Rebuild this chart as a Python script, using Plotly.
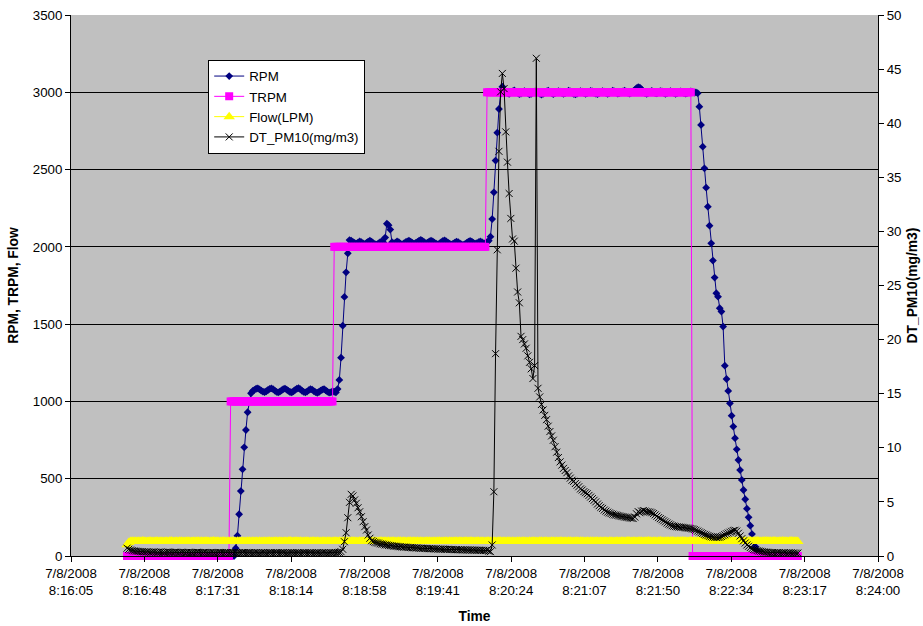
import pandas as pd
import plotly.graph_objects as go

# ---------------- data (1-second samples starting at 8:16:38) ----------------
START_TIME = "2008-07-08 08:16:38"

RPM = [
    # 8:16:38 .. idle
    0, 0, 0, 0, 0, 0, 0, 0, 0, 0, 0, 0, 0, 0, 0, 0,
    0, 0, 0, 0, 0, 0, 0, 0, 0, 0, 0, 0, 0, 0, 0, 0,
    0, 0, 0, 0, 0, 0, 0, 0, 0, 0, 0, 0, 0, 0, 0, 0,
    0, 0, 0, 0, 0, 0, 0, 0, 0, 0, 0, 0, 0, 0, 0, 0,
    # ramp to 1000
    50, 131, 270, 420, 561, 703, 815, 930, 1000, 1053,
    # plateau ~1000
    1068, 1075, 1082, 1085, 1078, 1070, 1064, 1060, 1066, 1074,
    1081, 1084, 1079, 1070, 1062, 1058, 1063, 1072, 1080, 1083,
    1077, 1068, 1061, 1059, 1066, 1075, 1082, 1086, 1079, 1069,
    1062, 1058, 1064, 1073, 1079, 1076, 1067, 1060, 1056, 1061,
    1070, 1077, 1080, 1072, 1063, 1057, 1059, 1066, 1062, 1058,
    # ramp to 2000
    1080, 1139, 1283, 1490, 1676, 1835, 1958, 2044,
    # plateau ~2000
    2040, 2032, 2025, 2020, 2028, 2036, 2030, 2022, 2018, 2025,
    2034, 2040, 2033, 2024, 2018, 2015, 2022, 2030, 2036, 2028,
    2060, 2150, 2140, 2112, 2030, 2022, 2028, 2035, 2030, 2020,
    2016, 2022, 2030, 2036, 2040, 2034, 2026, 2020, 2025, 2032,
    2040, 2045, 2038, 2030, 2024, 2028, 2035, 2040, 2036, 2028,
    2020, 2016, 2022, 2030, 2038, 2042, 2035, 2027, 2020, 2015,
    2020, 2028, 2034, 2030, 2022, 2016, 2012, 2018, 2026, 2033,
    2038, 2034, 2026, 2020, 2024, 2030, 2035, 2030, 2022, 2025,
    2030, 2040,
    # ramp to 3000
    2066, 2180, 2353, 2558, 2739, 2892, 2990, 3036,
    # plateau ~3000
    3010, 3005, 2995, 2990, 2998, 3006, 3012, 3004, 2996, 2988,
    2992, 3000, 3008, 3002, 2994, 2986, 2990, 2998, 3004, 3008,
    3000, 2992, 2985, 2990, 2998, 3005, 3010, 3003, 2995, 2988,
    2994, 3002, 3008, 3004, 2996, 2990, 2995, 3003, 3010, 3006,
    2998, 2990, 2986, 2992, 3000, 3007, 3004, 2996, 2990, 2994,
    3002, 3009, 3005, 2997, 2991, 2988, 2994, 3001, 3008, 3004,
    2996, 2990, 2995, 3003, 3010, 3006, 2998, 2991, 2994, 3000,
    3006, 3010, 3004, 2996, 2992, 2998, 3006, 3015, 3026, 3033,
    3030, 3018, 3004, 2994, 2990, 2996, 3004, 3009, 3003, 2995,
    2993, 3001, 3008, 3005, 2997, 2990, 2994, 3002, 3007, 3003,
    2996, 2990, 2994, 3001, 3006, 3002, 2995, 2991, 2996, 3003,
    3006, 3002, 2998, 3000,
    # ramp down
    2994, 2907, 2789, 2648, 2508, 2383, 2260, 2137, 2023, 1911,
    1801, 1700, 1678, 1603, 1581, 1484, 1231, 1145, 1068, 988,
    908, 837, 762, 690, 621, 556, 492, 427, 367, 306,
    250, 196, 142,
    # stopped
    95, 60, 35, 20, 10, 5, 0, 0, 0, 0, 0, 0, 0, 0, 0, 0,
    0, 0, 0, 0, 0, 0, 0, 0, 0, 0, 0,
]

TRPM = [
    0, 0, 0, 0, 0, 0, 0, 0, 0, 0,
    0, 0, 0, 0, 0, 0, 0, 0, 0, 0,
    0, 0, 0, 0, 0, 0, 0, 0, 0, 0,
    0, 0, 0, 0, 0, 0, 0, 0, 0, 0,
    0, 0, 0, 0, 0, 0, 0, 0, 0, 0,
    0, 0, 0, 0, 0, 0, 0, 0, 0, 0,
    0,
    1000, 1000, 1000, 1000, 1000, 1000, 1000, 1000, 1000, 1000,
    1000, 1000, 1000, 1000, 1000, 1000, 1000, 1000, 1000, 1000,
    1000, 1000, 1000, 1000, 1000, 1000, 1000, 1000, 1000, 1000,
    1000, 1000, 1000, 1000, 1000, 1000, 1000, 1000, 1000, 1000,
    1000, 1000, 1000, 1000, 1000, 1000, 1000, 1000, 1000, 1000,
    1000, 1000, 1000, 1000, 1000, 1000, 1000, 1000, 1000, 1000,
    1000,
    2000, 2000, 2000, 2000, 2000, 2000, 2000, 2000, 2000, 2000,
    2000, 2000, 2000, 2000, 2000, 2000, 2000, 2000, 2000, 2000,
    2000, 2000, 2000, 2000, 2000, 2000, 2000, 2000, 2000, 2000,
    2000, 2000, 2000, 2000, 2000, 2000, 2000, 2000, 2000, 2000,
    2000, 2000, 2000, 2000, 2000, 2000, 2000, 2000, 2000, 2000,
    2000, 2000, 2000, 2000, 2000, 2000, 2000, 2000, 2000, 2000,
    2000, 2000, 2000, 2000, 2000, 2000, 2000, 2000, 2000, 2000,
    2000, 2000, 2000, 2000, 2000, 2000, 2000, 2000, 2000, 2000,
    2000, 2000, 2000, 2000, 2000, 2000, 2000, 2000, 2000, 2000,
    3000, 3000, 3000, 3000, 3000, 3000, 3000, 3000, 3000, 3000,
    3000, 3000, 3000, 3000, 3000, 3000, 3000, 3000, 3000, 3000,
    3000, 3000, 3000, 3000, 3000, 3000, 3000, 3000, 3000, 3000,
    3000, 3000, 3000, 3000, 3000, 3000, 3000, 3000, 3000, 3000,
    3000, 3000, 3000, 3000, 3000, 3000, 3000, 3000, 3000, 3000,
    3000, 3000, 3000, 3000, 3000, 3000, 3000, 3000, 3000, 3000,
    3000, 3000, 3000, 3000, 3000, 3000, 3000, 3000, 3000, 3000,
    3000, 3000, 3000, 3000, 3000, 3000, 3000, 3000, 3000, 3000,
    3000, 3000, 3000, 3000, 3000, 3000, 3000, 3000, 3000, 3000,
    3000, 3000, 3000, 3000, 3000, 3000, 3000, 3000, 3000, 3000,
    3000, 3000, 3000, 3000, 3000, 3000, 3000, 3000, 3000, 3000,
    3000, 3000, 3000, 3000, 3000, 3000, 3000, 3000, 3000, 3000,
    3000,
    0, 0, 0, 0, 0, 0, 0, 0, 0, 0,
    0, 0, 0, 0, 0, 0, 0, 0, 0, 0,
    0, 0, 0, 0, 0, 0, 0, 0, 0, 0,
    0, 0, 0, 0, 0, 0, 0, 0, 0, 0,
    0, 0, 0, 0, 0, 0, 0, 0, 0, 0,
    0, 0, 0, 0, 0, 0, 0, 0, 0, 0,
    0, 0, 0,
]

FLOW_LPM = [
    72, 88, 93, 95, 94, 96, 93, 95, 94, 97, 95, 93, 94, 96, 95, 94, 93, 95, 96, 94,
    95, 93, 94, 96, 94, 95, 97, 94, 93, 95, 94, 96, 95, 93, 94, 95, 96, 94, 93, 95,
    94, 96, 95, 93, 95, 94, 96, 95, 94, 93, 95, 97, 94, 95, 93, 94, 96, 95, 94, 93,
    95, 94, 96, 93, 94, 95, 96, 94, 95, 93, 94, 96, 95, 94, 95, 93, 96, 94, 95, 94,
    93, 95, 94, 96, 95, 94, 93, 95, 96, 94, 95, 93, 94, 96, 94, 95, 97, 94, 93, 95,
    96, 94, 95, 93, 94, 96, 95, 94, 93, 95, 96, 94, 95, 94, 93, 96, 95, 94, 96, 95,
    94, 93, 95, 96, 94, 95, 93, 94, 96, 95, 94, 93, 95, 96, 95, 94, 93, 95, 94, 96,
    95, 94, 93, 95, 96, 94, 95, 93, 94, 96, 95, 94, 96, 93, 95, 94, 95, 96, 94, 93,
    95, 96, 94, 95, 93, 94, 96, 95, 94, 95, 93, 96, 94, 95, 94, 93, 95, 96, 95, 94,
    93, 95, 94, 96, 95, 93, 94, 95, 96, 94, 95, 94, 93, 96, 95, 94, 95, 93, 94, 96,
    95, 94, 96, 95, 93, 94, 95, 96, 94, 95, 93, 94, 96, 95, 94, 96, 95, 93, 94, 95,
    96, 94, 95, 93, 95, 96, 94, 95, 94, 93, 95, 96, 94, 95, 96, 94, 93, 95, 94, 96,
    95, 93, 94, 96, 95, 94, 96, 95, 93, 94, 95, 96, 94, 95, 93, 95, 96, 94, 95, 94,
    96, 95, 94, 93, 95, 96, 94, 95, 96, 94, 93, 95, 94, 96, 95, 94, 95, 96, 94, 95,
    94, 96, 95, 94, 96, 95, 93, 94, 96, 95, 94, 95, 96, 94, 95, 97, 95, 94, 96, 95,
    94, 95, 96, 95, 94, 96, 95, 97, 95, 94, 96, 95, 94, 96, 97, 95, 94, 96, 95, 96,
    95, 97, 96, 94, 95, 96, 95, 97, 96, 95, 94, 96, 97, 95, 96, 94, 95, 97, 96, 95,
    96, 95, 97, 96, 94, 95, 97, 96, 95, 96, 97, 95, 94, 96, 95, 97, 96, 95, 96, 94,
    95, 97, 96, 95, 96, 94, 95, 97, 96, 95, 96, 97, 95, 94, 96, 95, 97, 96, 95, 96,
    95, 97, 96, 94, 96, 95, 97, 96, 95, 94, 96, 97, 95, 96, 95, 94,
]

DT_PM10 = [
    0.72, 0.62, 0.55, 0.50, 0.47, 0.45, 0.43, 0.42, 0.40, 0.39,
    0.38, 0.37, 0.38, 0.36, 0.35, 0.36, 0.37, 0.35, 0.34, 0.35,
    0.36, 0.34, 0.33, 0.35, 0.36, 0.34, 0.33, 0.32, 0.34, 0.35,
    0.33, 0.32, 0.34, 0.33, 0.31, 0.32, 0.34, 0.33, 0.32, 0.31,
    0.32, 0.34, 0.33, 0.31, 0.30, 0.32, 0.33, 0.31, 0.30, 0.32,
    0.33, 0.31, 0.30, 0.31, 0.33, 0.32, 0.30, 0.29, 0.31, 0.32,
    0.30, 0.31, 0.33, 0.32, 0.30, 0.29, 0.31, 0.30, 0.32, 0.31,
    0.29, 0.30, 0.32, 0.31, 0.29, 0.30, 0.31, 0.29, 0.28, 0.30,
    0.31, 0.30, 0.28, 0.29, 0.31, 0.30, 0.29, 0.30, 0.31, 0.29,
    0.28, 0.30, 0.31, 0.29, 0.28, 0.29, 0.30, 0.31, 0.29, 0.28,
    0.29, 0.30, 0.28, 0.29, 0.31, 0.30, 0.28, 0.29, 0.30, 0.29,
    0.28, 0.29, 0.30, 0.29, 0.28, 0.30, 0.31, 0.29, 0.28, 0.29,
    0.30, 0.29, 0.31, 0.30, 0.32, 0.34, 0.40,
    # first puff (2000 rpm step)
    0.62, 1.32, 2.15, 3.54, 4.96, 5.70, 5.55, 5.18, 4.87, 4.46,
    4.09, 3.63, 3.17, 2.71, 2.40, 1.94, 1.64, 1.41,
    1.33, 1.26, 1.22, 1.19, 1.13, 1.10, 1.08, 1.03, 1.02, 0.98,
    0.96, 0.95, 0.91, 0.90, 0.89, 0.86, 0.86, 0.83, 0.82, 0.82,
    0.80, 0.78, 0.79, 0.76, 0.76, 0.74, 0.75, 0.72, 0.72, 0.71,
    0.70, 0.70, 0.68, 0.68, 0.67, 0.67, 0.65, 0.66, 0.64, 0.64,
    0.63, 0.64, 0.62, 0.61, 0.62, 0.60, 0.61, 0.60, 0.58, 0.59,
    0.58, 0.57, 0.58, 0.56, 0.57, 0.56, 0.55, 0.56, 0.54, 0.55,
    0.54, 0.53, 0.54, 0.52, 0.53, 0.52, 0.51, 0.52, 0.45, 0.40,
    # main puff (3000 rpm step)
    1.02, 5.94, 18.7, 28.3, 37.4, 42.9, 44.6, 43.2, 39.2, 36.4,
    33.5, 31.2, 29.3, 29.1, 26.6, 24.4, 23.4, 20.3, 20.0, 19.6,
    19.2, 18.5, 17.9, 17.3, 16.4, 17.6, 46.0,
    15.5, 14.7, 14.0, 13.5, 13.0, 12.6, 12.0, 11.5, 11.1, 10.7,
    10.1, 9.6, 9.1, 8.7, 8.4, 8.1, 7.9, 7.7, 7.4, 7.2,
    7.0, 6.9, 6.7, 6.55,
    6.40, 6.20, 6.10, 5.95, 5.85, 5.75, 5.60, 5.45, 5.30, 5.15,
    5.00, 4.80, 4.65, 4.50, 4.40, 4.25, 4.15, 4.05, 3.98, 3.92,
    3.86, 3.80, 3.78, 3.74, 3.70, 3.66, 3.64, 3.60, 3.57, 3.55,
    3.52, 3.50, 3.46, 3.60, 3.90, 4.10, 4.00, 4.15, 4.20, 4.15,
    4.10, 4.08, 4.05, 4.00, 3.92, 3.80, 3.68, 3.55, 3.45, 3.35,
    3.25, 3.15, 3.05, 2.95, 2.88, 2.80, 2.76, 2.72, 2.70, 2.68,
    2.66, 2.65, 2.63, 2.60, 2.58, 2.56, 2.54, 2.50, 2.45, 2.38,
    2.30, 2.22, 2.15, 2.08, 2.00, 1.94, 1.88, 1.82, 1.78, 1.75,
    1.73, 1.72, 1.72, 1.74, 1.80, 1.88, 1.96, 2.05, 2.12, 2.20,
    2.28, 2.35, 2.38, 2.30, 2.10, 1.85, 1.60, 1.40, 1.20, 1.02,
    0.90, 0.78, 0.68, 0.60, 0.55, 0.50, 0.46, 0.43, 0.40, 0.38,
    0.36, 0.35,
    0.33, 0.31, 0.32, 0.30, 0.29, 0.31, 0.30, 0.28, 0.29, 0.30,
    0.28, 0.27, 0.29, 0.28, 0.27, 0.28, 0.26, 0.27,
]

X_RANGE = ["2008-07-08 08:16:05", "2008-07-08 08:24:00.2"]
X_TICK_VALUES = [
    "2008-07-08 08:16:05.0", "2008-07-08 08:16:48.2", "2008-07-08 08:17:31.4",
    "2008-07-08 08:18:14.6", "2008-07-08 08:18:57.8", "2008-07-08 08:19:41.0",
    "2008-07-08 08:20:24.2", "2008-07-08 08:21:07.4", "2008-07-08 08:21:50.6",
    "2008-07-08 08:22:33.8", "2008-07-08 08:23:17.0", "2008-07-08 08:24:00.2",
]
X_TICK_LABELS = [
    "7/8/2008<br>8:16:05", "7/8/2008<br>8:16:48", "7/8/2008<br>8:17:31",
    "7/8/2008<br>8:18:14", "7/8/2008<br>8:18:58", "7/8/2008<br>8:19:41",
    "7/8/2008<br>8:20:24", "7/8/2008<br>8:21:07", "7/8/2008<br>8:21:50",
    "7/8/2008<br>8:22:34", "7/8/2008<br>8:23:17", "7/8/2008<br>8:24:00",
]


def times(values):
    return pd.date_range(START_TIME, periods=len(values), freq="1s")


fig = go.Figure()
fig.add_trace(go.Scatter(
    x=times(RPM), y=RPM, name="RPM", mode="lines+markers", cliponaxis=False,
    line=dict(color="#000080", width=1),
    marker=dict(symbol="diamond", size=6, color="#000080"),
))
fig.add_trace(go.Scatter(
    x=times(TRPM), y=TRPM, name="TRPM", mode="lines+markers", cliponaxis=False,
    line=dict(color="#FF00FF", width=1),
    marker=dict(symbol="square", size=8, color="#FF00FF"),
))
fig.add_trace(go.Scatter(
    x=times(FLOW_LPM), y=FLOW_LPM, name="Flow(LPM)", mode="lines+markers", cliponaxis=False,
    line=dict(color="#FFFF00", width=1),
    marker=dict(symbol="triangle-up", size=10, color="#FFFF00"),
))
fig.add_trace(go.Scatter(
    x=times(DT_PM10), y=DT_PM10, name="DT_PM10(mg/m3)", mode="lines+markers",
    yaxis="y2", cliponaxis=False,
    line=dict(color="#000000", width=1),
    marker=dict(symbol="x-thin-open", size=7, color="#000000",
                line=dict(color="#000000", width=1)),
))

TICK_FONT = dict(family="Liberation Sans, Arial, sans-serif", size=13.3, color="black")
TITLE_FONT = dict(family="Liberation Sans, Arial, sans-serif", size=13.8, color="black")

fig.update_layout(
    width=923, height=626,
    margin=dict(l=71, r=45, t=15, b=70),
    paper_bgcolor="white", plot_bgcolor="#C0C0C0",
    font=dict(family="Liberation Sans, Arial, sans-serif", size=13.3, color="black"),
    legend=dict(x=0.17, y=0.917, xanchor="left", yanchor="top",
                bgcolor="white", bordercolor="black", borderwidth=1,
                font=dict(family="Liberation Sans, Arial, sans-serif", size=13.3, color="black"),
                tracegroupgap=0),
    xaxis=dict(type="date", range=X_RANGE, tickmode="array",
               tickvals=X_TICK_VALUES, ticktext=X_TICK_LABELS, tickfont=TICK_FONT,
               showgrid=False, zeroline=False, showline=True, automargin=False,
               linecolor="black", linewidth=1, ticks="outside", ticklen=5,
               tickcolor="black",
               title=dict(text="<b>Time</b>", font=TITLE_FONT, standoff=14)),
    yaxis=dict(range=[0, 3500], dtick=500, tickformat="d", tickfont=TICK_FONT,
               showgrid=True, gridcolor="black", gridwidth=1, zeroline=False,
               showline=True, linecolor="black", linewidth=1, automargin=False,
               ticks="outside", ticklen=5, tickcolor="black",
               title=dict(text="<b>RPM, TRPM, Flow</b>", font=TITLE_FONT, standoff=10)),
    yaxis2=dict(overlaying="y", side="right", range=[0, 50], dtick=5, tickfont=TICK_FONT,
                showgrid=False, zeroline=False, showline=True, automargin=False,
                linecolor="black", linewidth=1, ticks="outside", ticklen=5,
                tickcolor="black",
                title=dict(text="<b>DT_PM10(mg/m3)</b>", font=TITLE_FONT, standoff=6)),
)

fig.write_html("out.html", config={"displayModeBar": False},
               post_script="document.body.style.margin='0';")
